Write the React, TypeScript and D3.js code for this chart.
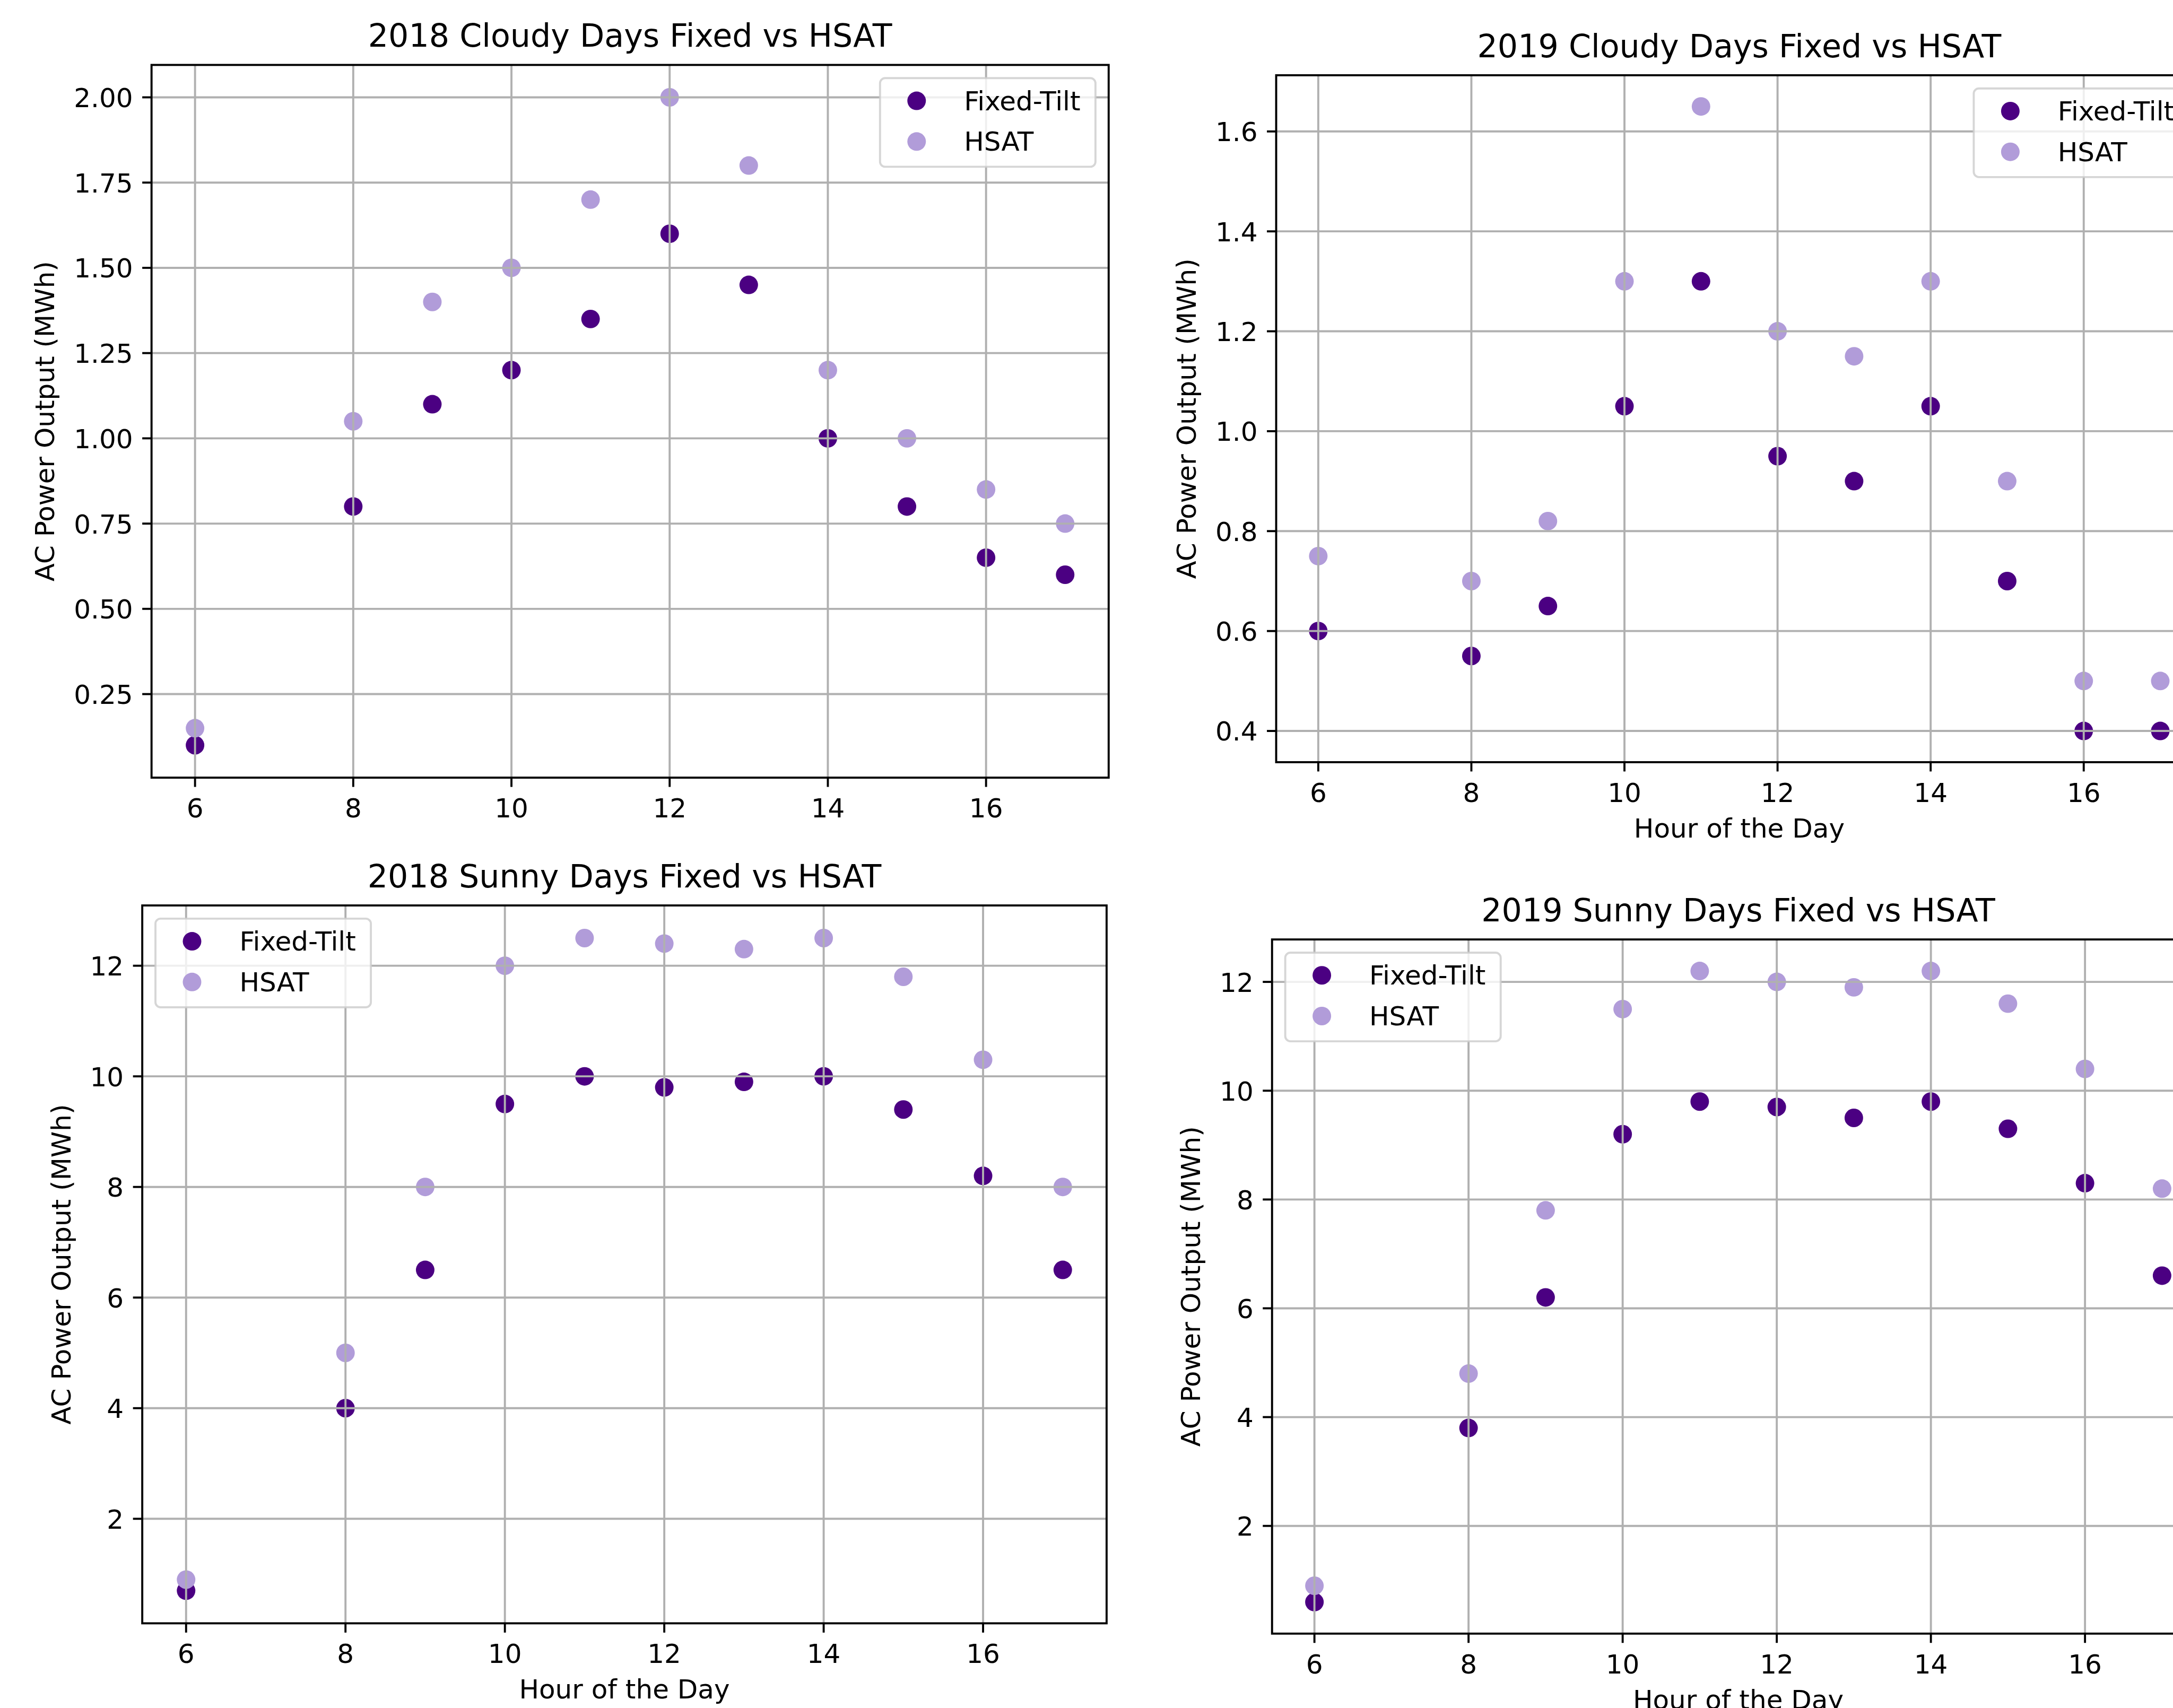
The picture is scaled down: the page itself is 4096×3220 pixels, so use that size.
import React from 'react';
import * as d3 from 'd3';

// ---------------- data ----------------
const hours = [6, 8, 9, 10, 11, 12, 13, 14, 15, 16, 17];
const xTicks = [6, 8, 10, 12, 14, 16];
const seriesNames = ['Fixed-Tilt', 'HSAT'];
const seriesColors = ['#4b0082', '#b19cd9'];

const cloudy2018Fixed = [0.1, 0.8, 1.1, 1.2, 1.35, 1.6, 1.45, 1.0, 0.8, 0.65, 0.6];
const cloudy2018Hsat = [0.15, 1.05, 1.4, 1.5, 1.7, 2.0, 1.8, 1.2, 1.0, 0.85, 0.75];
const cloudy2019Fixed = [0.6, 0.55, 0.65, 1.05, 1.3, 0.95, 0.9, 1.05, 0.7, 0.4, 0.4];
const cloudy2019Hsat = [0.75, 0.7, 0.82, 1.3, 1.65, 1.2, 1.15, 1.3, 0.9, 0.5, 0.5];
const sunny2018Fixed = [0.7, 4.0, 6.5, 9.5, 10.0, 9.8, 9.9, 10.0, 9.4, 8.2, 6.5];
const sunny2018Hsat = [0.9, 5.0, 8.0, 12.0, 12.5, 12.4, 12.3, 12.5, 11.8, 10.3, 8.0];
const sunny2019Fixed = [0.6, 3.8, 6.2, 9.2, 9.8, 9.7, 9.5, 9.8, 9.3, 8.3, 6.6];
const sunny2019Hsat = [0.9, 4.8, 7.8, 11.5, 12.2, 12.0, 11.9, 12.2, 11.6, 10.4, 8.2];

const cloudy2018Ticks = [0.25, 0.5, 0.75, 1.0, 1.25, 1.5, 1.75, 2.0];
const cloudy2019Ticks = [0.4, 0.6, 0.8, 1.0, 1.2, 1.4, 1.6];
const sunnyTicks = [2, 4, 6, 8, 10, 12];

const panelTitles = [
  '2018 Cloudy Days Fixed vs HSAT',
  '2019 Cloudy Days Fixed vs HSAT',
  '2018 Sunny Days Fixed vs HSAT',
  '2019 Sunny Days Fixed vs HSAT',
];
const xLabel = 'Hour of the Day';
const yLabel = 'AC Power Output (MWh)';

// ---------------- layout (reference pixels) ----------------
const REF_W = 4216;
const REF_H = 3314;
const W = 4096;
const H = 3220;
const S = W / REF_W;
const FONT = "'DejaVu Sans', sans-serif";
const FS = 51.5;
const TITLE_FS = 62;

type Rect = { left: number; right: number; top: number; bottom: number };

const digitW = (s: string) =>
  s.split('').reduce((a, c) => a + ('0123456789'.includes(c) ? 0.636 : c === '.' ? 0.318 : 0.6), 0) * FS;

function pad(ext: [number, number]): [number, number] {
  const r = ext[1] - ext[0];
  return [ext[0] - 0.05 * r, ext[1] + 0.05 * r];
}

function Panel(props: {
  title: string;
  fixed: number[];
  hsat: number[];
  yTicks: number[];
  yFmt: string;
  rect: Rect;
  legend: 'ur' | 'ul';
  showX: boolean;
}) {
  const { title, fixed, hsat, yTicks, yFmt, rect, legend, showX } = props;
  const x = d3.scaleLinear().domain(pad(d3.extent(hours) as [number, number])).range([rect.left, rect.right]);
  const yExt = d3.extent([...fixed, ...hsat]) as [number, number];
  const y = d3.scaleLinear().domain(pad(yExt)).range([rect.bottom, rect.top]);
  const fmt = d3.format(yFmt);
  const r = 18;
  const maxTW = d3.max(yTicks, (t) => digitW(fmt(t))) as number;
  const yLabelX = rect.left - 36 - maxTW - 38;
  const cy = (rect.top + rect.bottom) / 2;
  const cx = (rect.left + rect.right) / 2;

  const lw = 418;
  const lh = 172;
  const lx = legend === 'ur' ? rect.right - 25.6 - lw : rect.left + 25.6;
  const ly = rect.top + 25.6;

  return (
    <g>
      {/* points */}
      {[fixed, hsat].map((vals, si) => (
        <g key={si}>
          {vals.map((v, i) => (
            <circle key={i} cx={x(hours[i])} cy={y(v)} r={r} fill={seriesColors[si]} />
          ))}
        </g>
      ))}
      {/* grid */}
      <g stroke="#b0b0b0" strokeWidth={4}>
        {xTicks.map((t) => (
          <line key={'gx' + t} x1={x(t)} x2={x(t)} y1={rect.top} y2={rect.bottom} />
        ))}
        {yTicks.map((t) => (
          <line key={'gy' + t} x1={rect.left} x2={rect.right} y1={y(t)} y2={y(t)} />
        ))}
      </g>
      {/* ticks */}
      <g stroke="#000" strokeWidth={4}>
        {xTicks.map((t) => (
          <line key={'tx' + t} x1={x(t)} x2={x(t)} y1={rect.bottom} y2={rect.bottom + 18} />
        ))}
        {yTicks.map((t) => (
          <line key={'ty' + t} x1={rect.left - 18} x2={rect.left} y1={y(t)} y2={y(t)} />
        ))}
      </g>
      <g fontFamily={FONT} fontSize={FS} fill="#000">
        {xTicks.map((t) => (
          <text key={'lx' + t} x={x(t)} y={rect.bottom + 77} textAnchor="middle">
            {String(t)}
          </text>
        ))}
        {yTicks.map((t) => (
          <text key={'ly' + t} x={rect.left - 36} y={y(t) + 19} textAnchor="end">
            {fmt(t)}
          </text>
        ))}
        {showX && (
          <text x={cx} y={rect.bottom + 146} textAnchor="middle">
            {xLabel}
          </text>
        )}
        <text transform={`translate(${yLabelX},${cy}) rotate(-90)`} textAnchor="middle">
          {yLabel}
        </text>
      </g>
      {/* spines */}
      <rect
        x={rect.left}
        y={rect.top}
        width={rect.right - rect.left}
        height={rect.bottom - rect.top}
        fill="none"
        stroke="#000"
        strokeWidth={4}
      />
      {/* title */}
      <text x={cx} y={rect.top - 35} textAnchor="middle" fontFamily={FONT} fontSize={TITLE_FS} fill="#000">
        {title}
      </text>
      {/* legend */}
      <g>
        <rect
          x={lx}
          y={ly}
          width={lw}
          height={lh}
          rx={10}
          ry={10}
          fill="#fff"
          fillOpacity={0.8}
          stroke="#cccccc"
          strokeOpacity={0.8}
          strokeWidth={4}
        />
        {seriesNames.map((n, i) => (
          <g key={n}>
            <circle cx={lx + 71} cy={ly + 44 + i * 79} r={r} fill={seriesColors[i]} />
            <text x={lx + 163} y={ly + 44 + i * 79 + 18} fontFamily={FONT} fontSize={FS} fill="#000">
              {n}
            </text>
          </g>
        ))}
      </g>
    </g>
  );
}

export default function App() {
  const rects: Rect[] = [
    { left: 294, right: 2151, top: 126, bottom: 1509 },
    { left: 2476, right: 4273, top: 146, bottom: 1479 },
    { left: 276, right: 2147, top: 1757, bottom: 3150 },
    { left: 2468, right: 4277, top: 1823, bottom: 3170 },
  ];
  return (
    <>
      <style>{`body{margin:0;overflow:hidden}`}</style>
      <svg width={W} height={H} style={{ display: 'block', background: '#fff' }}>
        <rect x={0} y={0} width={W} height={H} fill="#fff" />
        <g transform={`scale(${S})`}>
          <Panel title={panelTitles[0]} fixed={cloudy2018Fixed} hsat={cloudy2018Hsat} yTicks={cloudy2018Ticks} yFmt=".2f" rect={rects[0]} legend="ur" showX={false} />
          <Panel title={panelTitles[1]} fixed={cloudy2019Fixed} hsat={cloudy2019Hsat} yTicks={cloudy2019Ticks} yFmt=".1f" rect={rects[1]} legend="ur" showX={true} />
          <Panel title={panelTitles[2]} fixed={sunny2018Fixed} hsat={sunny2018Hsat} yTicks={sunnyTicks} yFmt="d" rect={rects[2]} legend="ul" showX={true} />
          <Panel title={panelTitles[3]} fixed={sunny2019Fixed} hsat={sunny2019Hsat} yTicks={sunnyTicks} yFmt="d" rect={rects[3]} legend="ul" showX={true} />
        </g>
      </svg>
    </>
  );
}
